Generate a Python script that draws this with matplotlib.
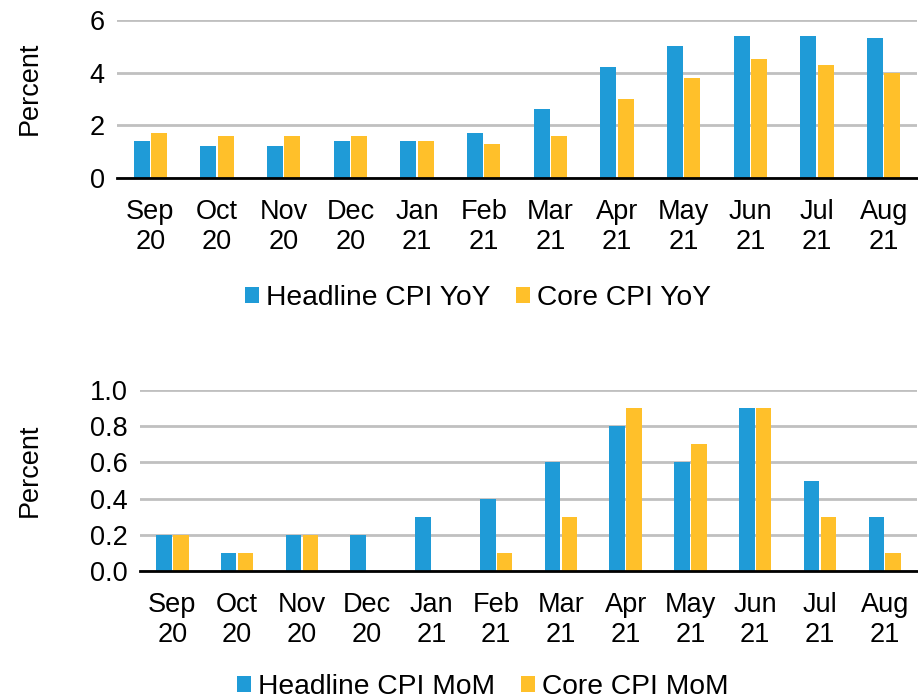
import matplotlib
matplotlib.use("Agg")
import matplotlib.pyplot as plt
import numpy as np

months = ["Sep\n20", "Oct\n20", "Nov\n20", "Dec\n20", "Jan\n21", "Feb\n21",
          "Mar\n21", "Apr\n21", "May\n21", "Jun\n21", "Jul\n21", "Aug\n21"]
headline_yoy = [1.4, 1.2, 1.2, 1.4, 1.4, 1.7, 2.6, 4.2, 5.0, 5.4, 5.4, 5.3]
core_yoy = [1.7, 1.6, 1.6, 1.6, 1.4, 1.3, 1.6, 3.0, 3.8, 4.5, 4.3, 4.0]
headline_mom = [0.2, 0.1, 0.2, 0.2, 0.3, 0.4, 0.6, 0.8, 0.6, 0.9, 0.5, 0.3]
core_mom = [0.2, 0.1, 0.2, 0.0, 0.0, 0.1, 0.3, 0.9, 0.7, 0.9, 0.3, 0.1]

BLUE = "#1f9bd7"
YELLOW = "#ffc02a"
FS = 19.5
LFS = 20.3

plt.rcParams['font.family'] = ['Liberation Sans', 'DejaVu Sans']
plt.rcParams['font.size'] = FS

fig = plt.figure(figsize=(9.18, 6.98), dpi=100)
ax1 = fig.add_axes([0.1275, 0.745, 0.8715, 0.2265])
ax2 = fig.add_axes([0.1525, 0.182, 0.8465, 0.259])

def style(ax, h, c, lh, lc, ylim, yticks, yfmt, legend_y, legend_cx, label_y):
    x = np.arange(len(months))
    w = 0.24
    ax.bar(x - 0.13, h, width=w, color=BLUE, label=lh, zorder=3)
    ax.bar(x + 0.13, c, width=w, color=YELLOW, label=lc, zorder=3)
    ax.set_xlim(-0.5, len(months) - 0.5)
    ax.set_ylim(*ylim)
    ax.set_yticks(yticks)
    ax.set_yticklabels([yfmt.format(v) for v in yticks])
    ax.set_xticks(x)
    ax.set_xticklabels(months, linespacing=1.22)
    for s in ["top", "right", "left"]:
        ax.spines[s].set_visible(False)
    ax.spines["bottom"].set_color("black")
    ax.spines["bottom"].set_linewidth(2)
    ax.spines["bottom"].set_zorder(4)
    ax.grid(axis="y", color="#c0c0c0", linewidth=2, zorder=0)
    ax.tick_params(axis="x", length=0, labelsize=FS, pad=15)
    ax.tick_params(axis="y", length=0, labelsize=FS, pad=9)
    ax.set_ylabel("Percent", fontsize=FS)
    pos = ax.get_position()
    ax.yaxis.set_label_coords(-(pos.x0 * 918 - 43) / (pos.width * 918), label_y)
    bx = (legend_cx / 918 - pos.x0) / pos.width
    leg = ax.legend(loc="center", bbox_to_anchor=(bx, legend_y), ncol=2,
                    frameon=False, fontsize=LFS, handlelength=0.5, handleheight=0.5,
                    handletextpad=0.25, columnspacing=0.9, borderpad=0)
    return leg

style(ax1, headline_yoy, core_yoy, "Headline CPI YoY", "Core CPI YoY",
      (0, 6), [0, 2, 4, 6], "{:.0f}", -0.76, 478, 0.57)
style(ax2, headline_mom, core_mom, "Headline CPI MoM", "Core CPI MoM",
      (0, 1.0), [0.0, 0.2, 0.4, 0.6, 0.8, 1.0], "{:.1f}", -0.64, 483, 0.555)

fig.savefig("out.png", dpi=100)
